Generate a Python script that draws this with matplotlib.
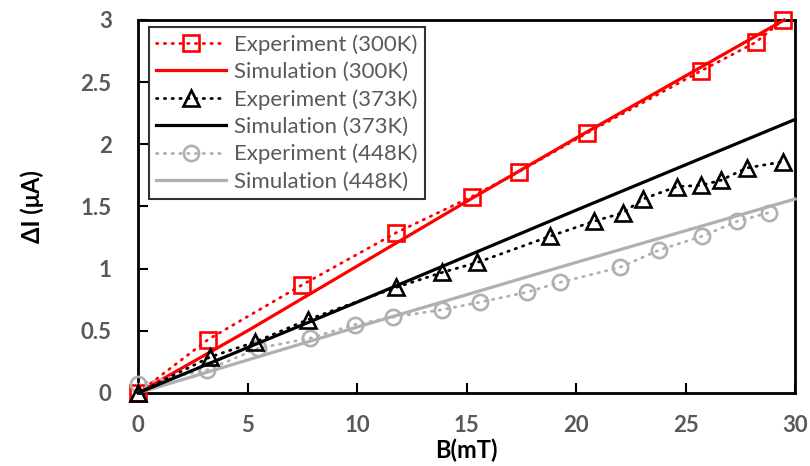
import matplotlib
matplotlib.use("Agg")
import matplotlib.pyplot as plt

plt.rcParams['font.family'] = ['Lato', 'DejaVu Sans']

# Experimental data, 300 K
b_exp_300 = [0.0, 3.2, 7.5, 11.8, 15.25, 17.4, 20.5, 25.7, 28.2, 29.45]
i_exp_300 = [0.0, 0.43, 0.87, 1.29, 1.58, 1.78, 2.09, 2.59, 2.82, 3.0]
# Simulation, 300 K
b_sim_300 = [0.0, 5.0, 10.0, 15.0, 20.0, 25.0, 29.5]
i_sim_300 = [0.0, 0.5, 1.02, 1.54, 2.05, 2.55, 3.0]

# Experimental data, 373 K
b_exp_373 = [0.0, 3.3, 5.35, 7.76, 11.8, 13.9, 15.5, 18.8, 20.8, 22.15,
             23.06, 24.6, 25.7, 26.6, 27.8, 29.45]
i_exp_373 = [0.0, 0.29, 0.41, 0.59, 0.85, 0.97, 1.05, 1.26, 1.38, 1.45,
             1.56, 1.66, 1.67, 1.71, 1.81, 1.86]
# Simulation, 373 K
b_sim_373 = [0.0, 10.0, 20.0, 30.0]
i_sim_373 = [0.0, 0.73, 1.47, 2.20]

# Experimental data, 448 K
b_exp_448 = [0.0, 3.15, 5.5, 7.85, 9.9, 11.65, 13.9, 15.6, 17.75, 19.27,
             22.0, 23.8, 25.75, 27.35, 28.8]
i_exp_448 = [0.07, 0.185, 0.36, 0.44, 0.55, 0.61, 0.67, 0.73, 0.81, 0.89,
             1.01, 1.15, 1.26, 1.38, 1.45]
# Simulation, 448 K
b_sim_448 = [0.0, 10.0, 20.0, 30.0]
i_sim_448 = [0.0, 0.53, 1.05, 1.56]

x_ticks = [0, 5, 10, 15, 20, 25, 30]
y_ticks = [0, 0.5, 1, 1.5, 2, 2.5, 3]
y_tick_labels = ['0', '0.5', '1', '1.5', '2', '2.5', '3']

RED = '#FF0000'
BLACK = '#000000'
GRAY = '#B0B0B0'
TEXT = '#595959'

dot_style = dict(linestyle=(0, (0.5, 2.3)), linewidth=2.0,
                 dash_capstyle='round', markerfacecolor='none',
                 markeredgewidth=1.9, clip_on=False)
solid_style = dict(linestyle='-', linewidth=2.3, clip_on=False)

fig = plt.figure(figsize=(8.1, 4.66), dpi=100)
ax = fig.add_axes([0.1704, 0.1567, 0.8111, 0.8004])

ax.plot(b_exp_300, i_exp_300, color=RED, marker='s', markersize=11.5,
        markeredgecolor=RED, label='Experiment (300K)', zorder=3, **dot_style)
ax.plot(b_sim_300, i_sim_300, color=RED, label='Simulation (300K)',
        zorder=3, **solid_style)
ax.plot(b_exp_373, i_exp_373, color=BLACK, marker='^', markersize=12,
        markeredgecolor=BLACK, label='Experiment (373K)', zorder=5, **dot_style)
ax.plot(b_sim_373, i_sim_373, color=BLACK, label='Simulation (373K)',
        zorder=5, **solid_style)
ax.plot(b_exp_448, i_exp_448, color=GRAY, marker='o', markersize=11,
        markeredgecolor=GRAY, label='Experiment (448K)', zorder=4, **dot_style)
ax.plot(b_sim_448, i_sim_448, color=GRAY, label='Simulation (448K)',
        zorder=4, **solid_style)

ax.set_xlim(0, 30)
ax.set_ylim(0, 3)
ax.set_xticks(x_ticks)
ax.set_yticks(y_ticks)
ax.set_yticklabels(y_tick_labels)

for side in ['left', 'bottom', 'right', 'top']:
    ax.spines[side].set_linewidth(2.0)
    ax.spines[side].set_color('black')

ax.tick_params(axis='both', direction='in', length=7, width=1.5,
               labelsize=16, labelcolor=TEXT, color='black')
ax.tick_params(axis='x', pad=16)
ax.tick_params(axis='y', pad=19)
for lbl in ax.get_xticklabels() + ax.get_yticklabels():
    lbl.set_fontweight('bold')

ax.set_xlabel('B(mT)', fontsize=17, fontweight='bold', color='black',
              labelpad=2)
ax.set_ylabel('ΔI (μA)', fontsize=17, fontweight='bold', color='black',
              labelpad=26)

leg = ax.legend(loc='upper left', bbox_to_anchor=(0.0167, 0.981),
                borderaxespad=0, fontsize=16, frameon=True, fancybox=False,
                handlelength=3.15, handletextpad=0.36, labelspacing=0.32,
                borderpad=0.32)
leg.get_frame().set_edgecolor('black')
leg.get_frame().set_linewidth(1.5)
for t in leg.get_texts():
    t.set_color(TEXT)

fig.savefig('out.png', dpi=100)
